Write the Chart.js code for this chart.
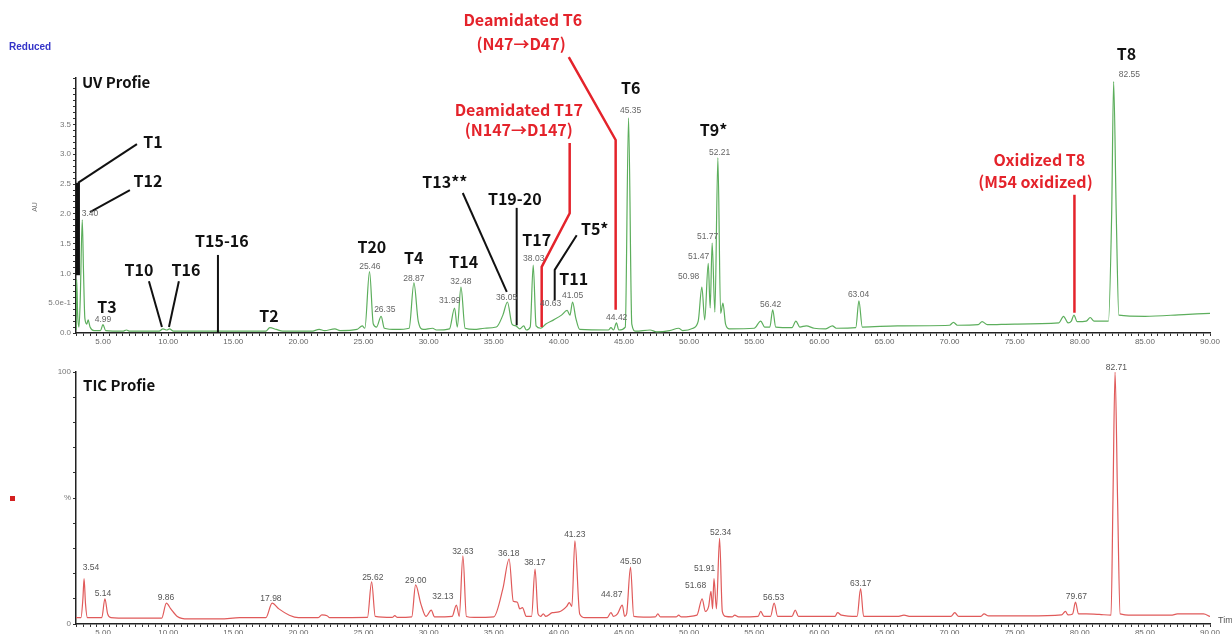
<!DOCTYPE html>
<html>
<head>
<meta charset="utf-8">
<script src="https://cdn.jsdelivr.net/npm/chart.js@4.4.1/dist/chart.umd.min.js"></script>
<style>
html, body { margin: 0; padding: 0; background: #fff; width: 1232px; height: 634px; overflow: hidden; position: relative; }
#uv { position: absolute; left: 0; top: 0; }
#tic { position: absolute; left: 0; top: 350px; }
</style>
</head>
<body>
<canvas id="uv" width="1232" height="350"></canvas>
<canvas id="tic" width="1232" height="290"></canvas>
<script>
// UV trace (retention time in min, absorbance in AU)
var uvTime = [2.93, 2.97, 3.05, 3.15, 3.25, 3.40, 3.50, 3.60, 3.75, 3.85, 4.00, 4.30, 4.80, 4.99, 5.20, 6.50, 6.80, 7.00,
  9.30, 9.60, 9.90, 10.10, 10.40, 17.50, 17.80, 18.30, 18.80, 21.00, 21.60, 22.00, 22.80, 23.20, 24.50, 24.90, 25.10,
  25.46, 25.75, 26.00, 26.35, 26.60, 27.50, 28.50, 28.87, 29.20, 29.60, 30.30, 30.60, 31.60, 31.99, 32.20, 32.48, 32.80,
  33.50, 34.30, 35.20, 35.70, 36.05, 36.40, 36.70, 37.00, 37.30, 37.50, 37.80, 38.03, 38.25, 38.60, 39.00, 39.60, 40.20,
  40.63, 40.85, 41.05, 41.30, 41.60, 43.80, 44.00, 44.20, 44.42, 44.60, 45.10, 45.35, 45.60, 45.90, 47.00, 47.50, 48.50,
  49.20, 49.50, 50.30, 50.70, 50.98, 51.20, 51.47, 51.62, 51.77, 51.98, 52.21, 52.42, 52.60, 52.80, 53.10, 55.00, 55.50,
  55.80, 56.20, 56.42, 56.65, 57.90, 58.20, 58.50, 59.00, 59.60, 60.50, 61.00, 61.30, 62.80, 63.04, 63.30, 66.00, 70.00,
  70.30, 70.60, 72.20, 72.50, 72.90, 75.00, 78.40, 78.75, 79.10, 79.35, 79.55, 79.80, 80.50, 80.80, 81.10, 82.20, 82.45,
  82.60, 82.80, 83.00, 85.00, 88.00, 90.00];
var uvAU = [0.05, 0.90, 0.30, 0.10, 0.60, 1.90, 1.00, 0.25, 0.15, 0.22, 0.10, 0.04, 0.04, 0.14, 0.04, 0.03, 0.05, 0.03,
  0.03, 0.07, 0.05, 0.07, 0.03, 0.03, 0.09, 0.06, 0.03, 0.03, 0.06, 0.04, 0.07, 0.04, 0.06, 0.12, 0.08,
  1.03, 0.15, 0.10, 0.28, 0.08, 0.06, 0.08, 0.84, 0.20, 0.06, 0.08, 0.05, 0.07, 0.42, 0.10, 0.77, 0.08,
  0.06, 0.08, 0.10, 0.30, 0.52, 0.15, 0.12, 0.07, 0.12, 0.05, 0.10, 1.14, 0.12, 0.08, 0.15, 0.22, 0.30,
  0.38, 0.30, 0.52, 0.25, 0.06, 0.05, 0.09, 0.05, 0.17, 0.05, 0.10, 3.61, 0.15, 0.03, 0.05, 0.02, 0.04,
  0.08, 0.04, 0.08, 0.20, 0.77, 0.22, 1.17, 0.42, 1.51, 0.35, 2.94, 0.33, 0.50, 0.15, 0.07, 0.08, 0.20,
  0.10, 0.10, 0.39, 0.10, 0.09, 0.20, 0.10, 0.12, 0.08, 0.07, 0.12, 0.08, 0.09, 0.54, 0.10, 0.12, 0.13,
  0.18, 0.13, 0.14, 0.19, 0.14, 0.15, 0.17, 0.28, 0.17, 0.20, 0.30, 0.19, 0.20, 0.26, 0.20, 0.20, 2.00,
  4.22, 2.00, 0.30, 0.28, 0.31, 0.33];

// TIC trace (retention time in min, relative intensity in %)
var ticTime = [2.92, 3.30, 3.45, 3.54, 3.65, 3.80, 4.90, 5.14, 5.35, 5.60, 7.00, 9.50, 9.86, 10.20, 10.70, 11.50, 14.00,
  15.50, 17.50, 17.98, 18.50, 19.30, 20.00, 21.50, 21.80, 22.20, 22.40, 25.30, 25.62, 25.90, 27.20, 27.40, 27.60, 28.70,
  29.00, 29.40, 29.80, 30.20, 30.45, 31.80, 32.13, 32.35, 32.63, 32.90, 33.50, 35.00, 35.70, 36.18, 36.50, 36.80, 37.00,
  37.20, 37.50, 37.90, 38.17, 38.40, 38.60, 38.80, 39.00, 39.50, 40.00, 40.60, 40.80, 41.00, 41.23, 41.60, 42.00, 43.70,
  44.00, 44.20, 44.50, 44.87, 45.05, 45.20, 45.50, 45.75, 46.50, 47.40, 47.60, 47.80, 49.00, 49.20, 49.40, 50.60, 51.00,
  51.25, 51.50, 51.68, 51.80, 51.91, 52.10, 52.34, 52.55, 52.80, 53.30, 53.50, 53.80, 55.30, 55.50, 55.75, 56.25, 56.53,
  56.80, 57.90, 58.15, 58.40, 61.20, 61.40, 61.70, 62.90, 63.17, 63.40, 66.00, 66.50, 67.00, 70.10, 70.40, 70.70, 72.40,
  72.65, 73.00, 76.00, 78.60, 78.90, 79.10, 79.45, 79.67, 79.90, 80.50, 81.50, 82.40, 82.55, 82.71, 82.90, 83.10, 84.00,
  87.00, 87.50, 89.50, 90.00];
var ticPct = [2.5, 2.5, 10, 18, 8, 2.5, 2.5, 10, 4, 2.5, 2.3, 2.3, 8.3, 6, 3, 2, 2,
  2.5, 2.5, 8.3, 6, 3.5, 2.5, 2.5, 3.6, 3.3, 2.5, 2.6, 16.7, 3, 2.6, 3.3, 2.6, 2.8,
  15.5, 8, 3, 5.5, 2.8, 3, 7.5, 3, 27, 3, 2.6, 2.8, 14, 25.8, 9, 8.7, 6,
  6.5, 3, 3, 21.8, 4, 3, 4, 3, 4.5, 4.8, 7, 8.5, 7, 33, 4, 2.5, 2.5,
  4.5, 3, 4, 7.5, 3, 4, 22.6, 3, 2.7, 2.8, 4, 2.8, 2.8, 3.5, 2.8, 3.5, 10,
  5, 7, 13, 6, 18, 6, 34, 5, 3, 2.8, 3.5, 2.8, 3, 5, 3, 3, 8.3,
  3, 3, 5.5, 3, 3, 4.5, 3.5, 3, 14, 3, 3, 3.5, 3, 3, 4.5, 3, 3,
  4, 3.2, 3.2, 3.6, 5, 3.6, 4, 8.7, 4, 4, 3.8, 3.5, 50, 100, 50, 4, 3.5,
  3.5, 4, 4, 3];

// peak retention-time labels: [label, time, height of label]
var uvPeakLabels = [['3.40', 3.99, 2.01], ['4.99', 4.99, 0.22], ['25.46', 25.48, 1.12], ['26.35', 26.63, 0.39],
  ['28.87', 28.86, 0.91], ['31.99', 31.62, 0.55], ['32.48', 32.47, 0.87], ['36.05', 35.98, 0.60], ['38.03', 38.07, 1.24],
  ['40.63', 39.37, 0.49], ['41.05', 41.06, 0.62], ['44.42', 44.44, 0.25], ['45.35', 45.51, 3.73], ['50.98', 49.97, 0.94],
  ['51.47', 50.73, 1.28], ['51.77', 51.42, 1.61], ['52.21', 52.34, 3.02], ['56.42', 56.26, 0.47], ['63.04', 63.01, 0.64],
  ['82.55', 83.81, 4.33]];
var ticPeakLabels = [['3.54', 4.07, 22.2], ['5.14', 4.99, 11.9], ['9.86', 9.83, 10.3], ['17.98', 17.89, 9.9],
  ['25.62', 25.71, 18.3], ['29.00', 29.01, 17.1], ['32.13', 31.09, 10.7], ['32.63', 32.62, 28.6], ['36.18', 36.15, 27.8],
  ['38.17', 38.15, 24.2], ['41.23', 41.22, 35.3], ['44.87', 44.06, 11.5], ['45.50', 45.51, 24.6], ['51.91', 51.19, 21.8],
  ['51.68', 50.50, 15.1], ['52.34', 52.42, 36.1], ['56.53', 56.49, 10.3], ['63.17', 63.17, 15.9], ['79.67', 79.74, 10.7],
  ['82.71', 82.81, 101.6]];

// peptide names on the UV trace
var uvTags = [['T1', 8.83, 3.21], ['T12', 8.45, 2.55], ['T3', 5.30, 0.44], ['T10', 7.75, 1.06], ['T16', 11.36, 1.06],
  ['T15-16', 14.12, 1.54], ['T2', 17.73, 0.29], ['T20', 25.64, 1.44], ['T4', 28.86, 1.26], ['T14', 32.70, 1.19],
  ['T13**', 31.24, 2.53], ['T19-20', 36.61, 2.25], ['T17', 38.30, 1.56], ['T5*', 42.75, 1.75], ['T11', 41.14, 0.91],
  ['T6', 45.51, 4.11], ['T9*', 51.88, 3.41], ['T8', 83.58, 4.68]];
var uvRedTags = [['Deamidated T17', 36.92, 3.74], ['(N147\u2192D147)', 36.92, 3.41], ['Deamidated T6', 37.23, 5.25],
  ['(N47\u2192D47)', 37.10, 4.85], ['Oxidized T8', 76.90, 2.90], ['(M54 oxidized)', 76.60, 2.53]];

var blackLeaders = [
  [[7.60, 3.17], [3.07, 2.52]], [[7.06, 2.40], [3.99, 2.03]], [[8.52, 0.87], [9.52, 0.10]],
  [[10.82, 0.87], [10.06, 0.10]], [[13.82, 1.31], [13.82, 0]], [[32.62, 2.35], [36.0, 0.69]],
  [[36.76, 2.10], [36.76, 0.13]], [[41.37, 1.64], [39.68, 1.06], [39.68, 0.55]]];
var redLeaders = [
  [[40.83, 3.19], [40.83, 2.01], [38.68, 1.11], [38.68, 0.10]],
  [[40.76, 4.63], [44.36, 3.24], [44.36, 0.39]],
  [[79.59, 2.32], [79.59, 0.34]]];
var t1Bar = [[3.07, 2.52], [3.07, 0.97]];

var TAG_FONT = 'bold 16px "Noto Sans CJK KR", "Noto Sans", sans-serif';
var SMALL_FONT = '8.5px "Liberation Sans", Arial, sans-serif';
var RED = '#e4232b';

function pts(xs, ys) {
  return xs.map(function (t, i) { return { x: t, y: ys[i] }; });
}

var notes = {
  id: 'notes',
  afterDraw: function (chart, args, o) {
    var ctx = chart.ctx, sx = chart.scales.x, sy = chart.scales.y;
    function X(t) { return sx.getPixelForValue(t); }
    function Y(v) { return sy.getPixelForValue(v); }
    ctx.save();
    ctx.lineCap = 'butt';
    (o.lines || []).forEach(function (l) {
      ctx.strokeStyle = l.color;
      ctx.lineWidth = l.width;
      l.paths.forEach(function (p) {
        ctx.beginPath();
        p.forEach(function (q, i) {
          if (i) ctx.lineTo(X(q[0]), Y(q[1])); else ctx.moveTo(X(q[0]), Y(q[1]));
        });
        ctx.stroke();
      });
    });
    (o.texts || []).forEach(function (g) {
      ctx.font = g.font;
      ctx.fillStyle = g.color;
      ctx.textAlign = g.align || 'center';
      ctx.textBaseline = 'middle';
      g.items.forEach(function (it) { ctx.fillText(it[0], X(it[1]), Y(it[2])); });
    });
    if (o.extra) o.extra(ctx, chart);
    ctx.restore();
  }
};
Chart.register(notes);

function xAxis(h) {
  return {
    type: 'linear', min: 2.92, max: 90,
    afterFit: function (s) { s.height = h; },
    border: { display: true, color: '#222', width: 1.5 },
    grid: { display: true, drawOnChartArea: false, drawTicks: true, tickLength: 3, color: '#333', lineWidth: 1 },
    ticks: {
      stepSize: 0.5, autoSkip: false, maxRotation: 0, padding: 1, color: '#666',
      font: { family: '"Liberation Sans", Arial, sans-serif', size: 8 },
      callback: function (v) {
        var r = Math.round(v * 100) / 100;
        return (r >= 5 && Math.abs(r / 5 - Math.round(r / 5)) < 1e-6) ? r.toFixed(2) : '';
      }
    }
  };
}

function baseOptions(yScale, xh, pad, noteOpts) {
  return {
    responsive: false, animation: false,
    layout: { padding: pad },
    plugins: { legend: { display: false }, tooltip: { enabled: false }, notes: noteOpts },
    elements: { point: { radius: 0 }, line: { cubicInterpolationMode: 'monotone', borderJoinStyle: 'round' } },
    scales: { x: xAxis(xh), y: yScale }
  };
}

new Chart(document.getElementById('uv'), {
  type: 'line',
  data: { datasets: [{ data: pts(uvTime, uvAU), borderColor: '#5cae5c', borderWidth: 1.2, fill: false }] },
  options: baseOptions({
    type: 'linear', min: 0, max: 4.28,
    afterFit: function (s) { s.width = 76; },
    border: { display: true, color: '#222', width: 1.5 },
    grid: { display: true, drawOnChartArea: false, drawTicks: true, tickLength: 3, color: '#333' },
    ticks: {
      stepSize: 0.1, autoSkip: false, padding: 2, color: '#777',
      font: { family: '"Liberation Sans", Arial, sans-serif', size: 8 },
      callback: function (v) {
        var r = Math.round(v * 100) / 100;
        if (r > 3.5 || Math.abs(r * 2 - Math.round(r * 2)) > 1e-6) return '';
        if (r === 0.5) return '5.0e-1';
        return r.toFixed(1);
      }
    }
  }, 17, { left: 0, top: 78, right: 22, bottom: 0 }, {
    lines: [
      { color: '#111', width: 2, paths: blackLeaders },
      { color: '#111', width: 4, paths: [t1Bar] },
      { color: RED, width: 2.5, paths: redLeaders }
    ],
    texts: [
      { font: TAG_FONT, color: '#111', items: uvTags },
      { font: TAG_FONT, color: RED, items: uvRedTags },
      { font: SMALL_FONT, color: '#666', items: uvPeakLabels },
      { font: 'bold 15px "Noto Sans CJK KR", "Noto Sans", sans-serif', color: '#111', align: 'left', items: [['UV Profie', 3.38, 4.20]] }
    ],
    extra: function (ctx) {
      ctx.font = 'bold 10px "Liberation Sans", Arial, sans-serif';
      ctx.fillStyle = '#3434c8';
      ctx.textAlign = 'left';
      ctx.fillText('Reduced', 9, 47);
      ctx.save();
      ctx.translate(35, 207);
      ctx.rotate(-Math.PI / 2);
      ctx.font = '7px "Liberation Sans", Arial, sans-serif';
      ctx.fillStyle = '#777';
      ctx.textAlign = 'center';
      ctx.fillText('AU', 0, 0);
      ctx.restore();
    }
  })
});

new Chart(document.getElementById('tic'), {
  type: 'line',
  data: { datasets: [{ data: pts(ticTime, ticPct), borderColor: '#e05a5a', borderWidth: 1.2, fill: false }] },
  options: baseOptions({
    type: 'linear', min: 0, max: 100,
    afterFit: function (s) { s.width = 76; },
    border: { display: true, color: '#222', width: 1.5 },
    grid: { display: true, drawOnChartArea: false, drawTicks: true, tickLength: 3, color: '#333' },
    ticks: {
      stepSize: 10, autoSkip: false, padding: 2, color: '#777',
      font: { family: '"Liberation Sans", Arial, sans-serif', size: 8 },
      callback: function (v) { return v === 100 ? '100' : v === 0 ? '0' : v === 50 ? '%' : ''; }
    }
  }, 16, { left: 0, top: 22, right: 22, bottom: 0 }, {
    texts: [
      { font: SMALL_FONT, color: '#555', items: ticPeakLabels },
      { font: 'bold 15px "Noto Sans CJK KR", "Noto Sans", sans-serif', color: '#111', align: 'left', items: [['TIC Profie', 3.46, 94.8]] }
    ],
    extra: function (ctx) {
      ctx.fillStyle = '#d42020';
      ctx.fillRect(10, 146, 5, 5);
      ctx.font = '9px "Liberation Sans", Arial, sans-serif';
      ctx.fillStyle = '#555';
      ctx.textAlign = 'left';
      ctx.fillText('Time', 1218, 271);
    }
  })
});
</script>
</body>
</html>
